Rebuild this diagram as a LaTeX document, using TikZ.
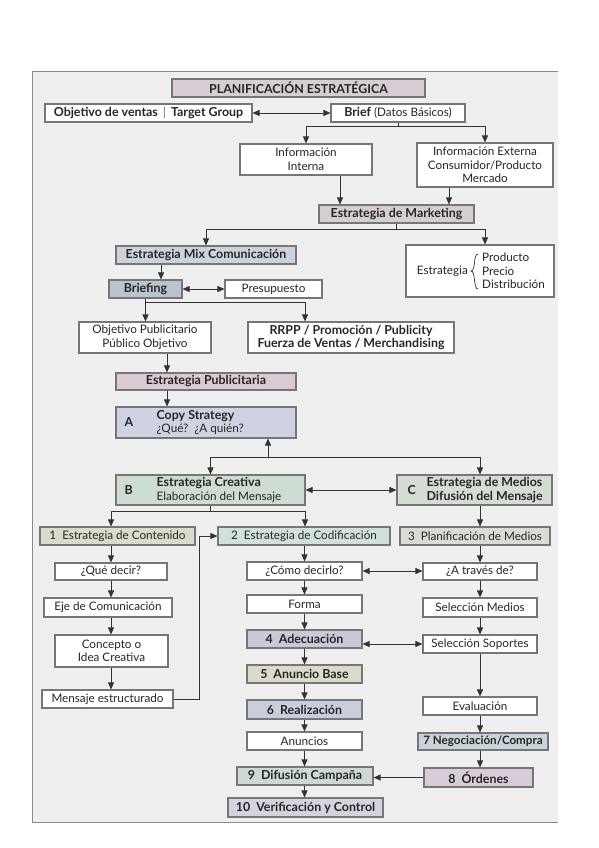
\documentclass[tikz,border=0pt]{standalone}
\usepackage{fontspec}
\setmainfont{Lato}
\usetikzlibrary{arrows.meta}
\definecolor{bordc}{HTML}{767676}
\definecolor{linec}{HTML}{333333}
\definecolor{bgc}{HTML}{EFEFEF}
\definecolor{framec}{HTML}{8A8A8A}
\definecolor{txtc}{HTML}{262626}
\definecolor{cPlan}{HTML}{D8CDD4}
\definecolor{cMkt}{HTML}{D6CDD3}
\definecolor{cMix}{HTML}{CDD3DC}
\definecolor{cBrf}{HTML}{B9C4CD}
\definecolor{cPub}{HTML}{DBC9D4}
\definecolor{cCopy}{HTML}{CED2E2}
\definecolor{cB}{HTML}{CFDCD2}
\definecolor{cC}{HTML}{D3DDD1}
\definecolor{cOne}{HTML}{D9DBCB}
\definecolor{cTwo}{HTML}{D2E0DA}
\definecolor{cThree}{HTML}{D8DCD2}
\definecolor{cAde}{HTML}{CAC9DA}
\definecolor{cAnu}{HTML}{DCDAC8}
\definecolor{cRea}{HTML}{C9CEDD}
\definecolor{cNeg}{HTML}{C9D4DA}
\definecolor{cOrd}{HTML}{D8CCD8}
\definecolor{cDif}{HTML}{CED9D6}
\definecolor{cVer}{HTML}{D3D4DD}
\newcommand{\bt}[1]{{\fontsize{12.4}{13.5}\selectfont\bfseries #1}}
\begin{document}
\begin{tikzpicture}[x=1pt,y=-1pt,
  box/.style={draw=bordc, line width=1.1pt, fill=white, inner sep=0pt, align=center,
    text=txtc, font=\fontsize{11.7}{13.5}\selectfont},
  bbox/.style={box, font=\fontsize{12.4}{13.5}\selectfont\bfseries},
  wh/.style 2 args={minimum width=#1pt, minimum height=#2pt},
  lbl/.style={inner sep=0pt, anchor=west, align=left, text=txtc, font=\fontsize{11.7}{13.5}\selectfont},
  ln/.style={draw=linec, line width=0.8pt},
  arr/.style={ln, -{Triangle[length=7pt,width=6pt]}},
  darr/.style={ln, {Triangle[length=7pt,width=6pt]}-{Triangle[length=7pt,width=6pt]}}
]
\useasboundingbox (0,0) rectangle (599,848);
\fill[white] (0,0) rectangle (599,848);
\fill[bgc] (32,72) rectangle (558,822);
\draw[framec, line width=1pt] (558,72) -- (32,72) -- (32,822) -- (558,822);

% column coordinates
\coordinate (xL) at (111,0);
\coordinate (xM) at (304.5,0);
\coordinate (xR) at (480,0);
\coordinate (x340) at (340,0);
\coordinate (x449) at (449,0);
\coordinate (x485) at (485,0);
\coordinate (x161) at (161,0);
\coordinate (x167) at (167,0);
\coordinate (x305) at (305,0);
\coordinate (x199) at (199,0);

% nodes
\node[bbox, wh={253}{18}, fill=cPlan] (plan) at (298.5,88) {PLANIFICACIÓN ESTRATÉGICA};
\node[bbox, wh={207}{18}] (obj) at (148.5,113) {Objetivo de ventas \,\textcolor{bordc}{\normalfont |}\, Target Group};
\node[box, wh={134}{18}] (brief) at (398,113) {\bt{Brief} (Datos Básicos)};
\node[box, wh={132}{31}] (infoint) at (306,159.5) {Información\\Interna};
\node[box, wh={136}{44}] (infoext) at (485,165) {Información Externa\\Consumidor/Producto\\Mercado};
\node[bbox, wh={155}{18}, fill=cMkt] (mkt) at (396.5,214) {Estrategia de Marketing};
\node[bbox, wh={180}{18}, fill=cMix] (mix) at (206,255) {Estrategia Mix Comunicación};
\node[box, wh={148}{52}] (estr) at (480,271) {};
\node[lbl, anchor=east] (estrT) at (468,271) {Estrategia};
\draw[linec, line width=0.7pt] (478,254) .. controls (473,254) and (476,271) .. (471,271)
  .. controls (476,271) and (473,289) .. (478,289);
\node[lbl] (estrL) at (482,271) {Producto\\Precio\\Distribución};
\node[bbox, wh={73}{18}, fill=cBrf] (briefing) at (145.5,289) {Briefing};
\node[box, wh={97}{18}] (presu) at (273.5,289) {Presupuesto};
\node[box, wh={132}{31}] (objpub) at (145,337.5) {Objetivo Publicitario\\Público Objetivo};
\node[bbox, wh={206}{31}] (rrpp) at (351,337.5) {RRPP / Promoción / Publicity\\Fuerza de Ventas / Merchandising};
\node[bbox, wh={180}{17}, fill=cPub] (publ) at (206,381.5) {Estrategia Publicitaria};
\node[box, wh={180}{31}, fill=cCopy] (copy) at (206,422.5) {};
\node[lbl] (copyA) at ([xshift=9pt]copy.west) {\bt{A}};
\node[lbl] (copyT) at ([xshift=41pt]copy.west) {\bt{Copy Strategy}\\¿Qué?~~¿A quién?};
\node[box, wh={189}{30}, fill=cB] (B) at (210.5,490) {};
\node[lbl] (BA) at ([xshift=9pt]B.west) {\bt{B}};
\node[lbl] (BT) at ([xshift=41pt]B.west) {\bt{Estrategia Creativa}\\Elaboración del Mensaje};
\node[box, wh={155}{30}, fill=cC] (C) at (474.5,490) {};
\node[lbl] (CA) at ([xshift=11pt]C.west) {\bt{C}};
\node[lbl] (CT) at ([xshift=30pt]C.west) {\bt{Estrategia de Medios}\\\bt{Difusión del Mensaje}};
\node[box, wh={155}{18}, fill=cOne] (b1) at (117.5,536) {1~ Estrategia de Contenido};
\node[box, wh={172}{18}, fill=cTwo] (b2) at (304,536) {2~ Estrategia de Codificación};
\node[box, wh={150}{18}, fill=cThree] (b3) at (475,536) {3~ Planificación de Medios};
\node[box, wh={112}{17}] (que) at (111,571.5) {¿Qué decir?};
\node[box, wh={128}{19}] (eje) at (108,607.5) {Eje de Comunicación};
\node[box, wh={113}{32}] (conc) at (111.5,651) {Concepto o\\Idea Creativa};
\node[box, wh={131}{18}] (mens) at (107.5,699) {Mensaje estructurado};
\node[box, wh={115}{18}] (como) at (304.5,571) {¿Cómo decirlo?};
\node[box, wh={115}{18}] (forma) at (304.5,604) {Forma};
\node[bbox, wh={115}{18}, fill=cAde] (adec) at (304.5,639) {4~ Adecuación};
\node[bbox, wh={115}{18}, fill=cAnu] (anun) at (304.5,674) {5~ Anuncio Base};
\node[bbox, wh={115}{19}, fill=cRea] (real) at (304.5,709.5) {6~ Realización};
\node[box, wh={115}{18}] (anuncios) at (304.5,741) {Anuncios};
\node[bbox, wh={136}{18}, fill=cDif] (dif) at (305,776) {9~ Difusión Campaña};
\node[bbox, wh={155}{19}, fill=cVer] (ver) at (305.5,807.5) {10~ Verificación y Control};
\node[box, wh={114}{17}] (atraves) at (480,571.5) {¿A través de?};
\node[box, wh={114}{19}] (selmed) at (480,607.5) {Selección Medios};
\node[box, wh={114}{18}] (selsop) at (480,644) {Selección Soportes};
\node[box, wh={114}{18}] (eval) at (480,706) {Evaluación};
\node[bbox, wh={130}{17}, fill=cNeg, font=\fontsize{11.6}{13.5}\selectfont\bfseries] (neg) at (483,741.5) {7 Negociación/Compra};
\node[bbox, wh={109}{19}, fill=cOrd] (ord) at (478.5,777.5) {8~ Órdenes};

% connectors: top
\draw[darr] (obj.east) -- (brief.west);
\coordinate (j1) at (398,126);
\draw[ln] (brief.south) -- (j1);
\draw[arr] (j1) -| (infoint.north);
\draw[arr] (j1) -| (infoext.north);
\draw[arr] (infoint.south -| x340) -- (mkt.north -| x340);
\draw[arr] (infoext.south -| x449) -- (mkt.north -| x449);
\coordinate (j2) at (396.5,229);
\draw[ln] (mkt.south) -- (j2);
\draw[arr] (j2) -| (mix.north);
\draw[arr] (j2) -| (estr.north -| x485);
\draw[arr] (mix.south -| x161) -- (briefing.north -| x161);
\draw[darr] (briefing.east) -- (presu.west);
\coordinate (j3) at (145.5,302);
\draw[arr] (briefing.south) -- (briefing.south |- objpub.north);
\draw[arr] (j3) -| (rrpp.north -| x305);
\draw[arr] (objpub.south -| x167) -- (publ.north -| x167);
\draw[arr] (publ.south -| x167) -- (copy.north -| x167);
\coordinate (j4) at (268,457);
\draw[arr] (j4) -- (copy.south -| j4);
\draw[arr] (j4) -| (B.north);
\draw[arr] (j4) -| (C.north -| xR);
\draw[darr] (B.east) -- (C.west);
\coordinate (j5) at (210.5,511);
\draw[ln] (B.south) -- (j5);
\draw[arr] (j5) -| (b1.north -| xL);
\draw[arr] (j5) -| (b2.north -| x305);
\draw[arr] (C.south -| xR) -- (b3.north -| xR);

% left column
\draw[arr] (b1.south -| xL) -- (que.north -| xL);
\draw[arr] (que.south -| xL) -- (eje.north -| xL);
\draw[arr] (eje.south -| xL) -- (conc.north -| xL);
\draw[arr] (conc.south -| xL) -- (mens.north -| xL);
\draw[arr] (mens.east) -- (mens.east -| x199) |- (b2.west);

% middle column
\draw[arr] (b2.south -| xM) -- (como.north -| xM);
\draw[arr] (como.south -| xM) -- (forma.north -| xM);
\draw[arr] (forma.south -| xM) -- (adec.north -| xM);
\draw[arr] (adec.south -| xM) -- (anun.north -| xM);
\draw[arr] (anun.south -| xM) -- (real.north -| xM);
\draw[arr] (real.south -| xM) -- (anuncios.north -| xM);
\draw[arr] (anuncios.south -| xM) -- (dif.north -| xM);
\draw[arr] (dif.south -| xM) -- (ver.north -| xM);

% right column
\draw[arr] (b3.south -| xR) -- (atraves.north -| xR);
\draw[arr] (atraves.south -| xR) -- (selmed.north -| xR);
\draw[arr] (selmed.south -| xR) -- (selsop.north -| xR);
\draw[arr] (selsop.south -| xR) -- (eval.north -| xR);
\draw[arr] (eval.south -| xR) -- (neg.north -| xR);
\draw[arr] (neg.south -| xR) -- (ord.north -| xR);

% cross links
\draw[darr] (como.east) -- (como.east -| atraves.west);
\draw[darr] (selsop.west -| adec.east) -- (selsop.west);
\draw[arr] (ord.west) -- (ord.west -| dif.east);
\end{tikzpicture}
\end{document}
